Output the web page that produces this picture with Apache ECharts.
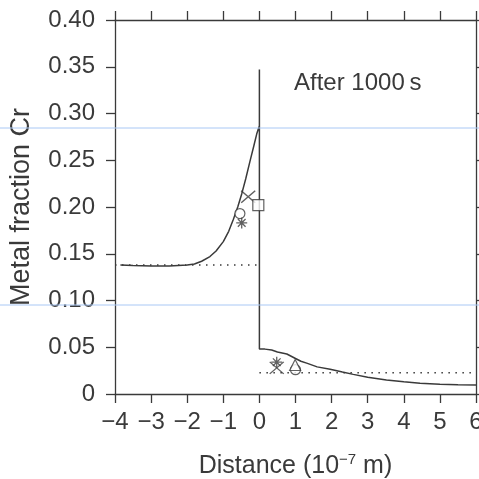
<!DOCTYPE html>
<html><head><meta charset="utf-8">
<script src="https://cdn.jsdelivr.net/npm/echarts@6/dist/echarts.min.js"></script>
<style>html,body{margin:0;padding:0;background:#fff;overflow:hidden}#c{width:479px;height:479px}</style>
</head><body><div id="c"></div>
<script>
// Data (distance in 1e-7 m, metal fraction Cr)
var profileX = [-3.85,-3.5,-3.0,-2.5,-2.0,-1.8,-1.6,-1.37,-1.2,-1.0,-0.85,-0.72,-0.6,-0.49,-0.38,-0.26,-0.15,-0.075,0,0,0,
                0.15,0.34,0.5,0.76,1.0,1.15,1.31,1.6,1.96,2.3,2.6,3.0,3.52,4.0,4.45,5.0,5.5,6.0];
var profileY = [0.138,0.1375,0.137,0.137,0.138,0.139,0.142,0.147,0.153,0.163,0.174,0.187,0.200,0.214,0.230,0.249,0.266,0.278,0.287,0.347,0.048,
                0.048,0.047,0.045,0.0428,0.038,0.035,0.033,0.029,0.0264,0.0235,0.021,0.018,0.015,0.013,0.0114,0.0105,0.0099,0.0096];
var initLeftX = [-4, 0], initLeftY = [0.138, 0.138];
var initRightX = [0, 6], initRightY = [0.0228, 0.0228];
var circlePts = [[-0.54, 0.193], [1.0, 0.026]];
var asteriskPts = [[-0.49, 0.183], [0.48, 0.034]];
var crossPts = [[-0.31, 0.211], [0.48, 0.028]];
var squarePts = [[-0.03, 0.202]];
var trianglePts = [[0.99, 0.031]];
var xTicks = [-4,-3,-2,-1,0,1,2,3,4,5,6];
var yTicks = ['0','0.05','0.10','0.15','0.20','0.25','0.30','0.35','0.40'];

function zip(a, b){ return a.map(function(v,i){ return [v, b[i]]; }); }
var ink = '#3a3a3a';
var font = 'Liberation Sans, Arial, Helvetica, sans-serif';

var chart = echarts.init(document.getElementById('c'), null, {renderer:'canvas'});
var axisCommon = {
  axisLine:{show:true, onZero:false, lineStyle:{color:ink, width:1.3}},
  axisTick:{show:true, inside:false, length:9, lineStyle:{color:ink, width:1.3}},
  splitLine:{show:false}
};
chart.setOption({
  animation:false,
  backgroundColor:'#fff',
  grid:{left:115, right:3, top:20, bottom:85, containLabel:false, outerBoundsMode:'none'},
  xAxis:[
    Object.assign({type:'value', min:-4, max:6, interval:1, position:'bottom',
      name:'{n|Distance (10}{s|\u22127}{n| m)}', nameLocation:'middle', nameGap:58,
      nameTextStyle:{rich:{n:{fontSize:25, fontFamily:font, color:ink}, s:{fontSize:15, fontFamily:font, color:ink, verticalAlign:'top', padding:[0,0,14,0]}}},
      axisLabel:{fontSize:24, fontFamily:font, color:ink, margin:16,
        formatter:function(v){ var i = xTicks.indexOf(v); return i<0?'':(v<0?'\u2212'+Math.abs(v):String(v)); }}
    }, axisCommon),
    Object.assign({type:'value', min:-4, max:6, interval:1, position:'top', axisLabel:{show:false}}, axisCommon)
  ],
  yAxis:[
    Object.assign({type:'value', min:0, max:0.4, interval:0.05, position:'left',
      name:'Metal fraction Cr', nameLocation:'middle', nameGap:80,
      nameTextStyle:{fontSize:27, fontFamily:font, color:ink},
      axisLabel:{fontSize:24, fontFamily:font, color:ink, margin:20,
        formatter:function(v){ return yTicks[Math.round(v/0.05)] || ''; }}
    }, axisCommon),
    Object.assign({type:'value', min:0, max:0.4, interval:0.05, position:'right', axisLabel:{show:false}}, axisCommon)
  ],
  series:[
    {type:'line', data:zip(initLeftX, initLeftY), symbol:'none', lineStyle:{color:ink, width:1.6, type:[1.5,5.5]}, z:1},
    {type:'line', data:zip(initRightX, initRightY), symbol:'none', lineStyle:{color:ink, width:1.6, type:[1.5,5.5]}, z:1},
    {type:'line', data:zip(profileX, profileY), symbol:'none', lineStyle:{color:ink, width:1.5}, z:2},
    {type:'scatter', data:circlePts, symbol:'circle', symbolSize:10, itemStyle:{color:'#fff', borderColor:ink, borderWidth:1.2}, z:5},
    {type:'scatter', data:asteriskPts, symbol:'path://M5,0L5,10M0,5L10,5M1.5,1.5L8.5,8.5M8.5,1.5L1.5,8.5', symbolSize:11, itemStyle:{color:'none', borderColor:ink, borderWidth:1.3}, z:5},
    {type:'scatter', data:crossPts, symbol:'path://M0,0L10,10M10,0L0,10', symbolSize:[14,12], itemStyle:{color:'none', borderColor:ink, borderWidth:1.3}, z:5},
    {type:'scatter', data:squarePts, symbol:'rect', symbolSize:11, itemStyle:{color:'#fff', borderColor:ink, borderWidth:1.2}, z:5},
    {type:'scatter', data:trianglePts, symbol:'triangle', symbolSize:11, itemStyle:{color:'#fff', borderColor:ink, borderWidth:1.2}, z:5}
  ],
  graphic:[
    {type:'text', left:294, top:71, style:{text:'After 1000\u2009s', fontSize:24, fontFamily:font, fill:ink}},
    {type:'line', shape:{x1:0, y1:128, x2:479, y2:128}, style:{stroke:'#a9c8f5', lineWidth:1}, z:100},
    {type:'line', shape:{x1:0, y1:305, x2:479, y2:305}, style:{stroke:'#a9c8f5', lineWidth:1}, z:100}
  ]
});
</script></body></html>
